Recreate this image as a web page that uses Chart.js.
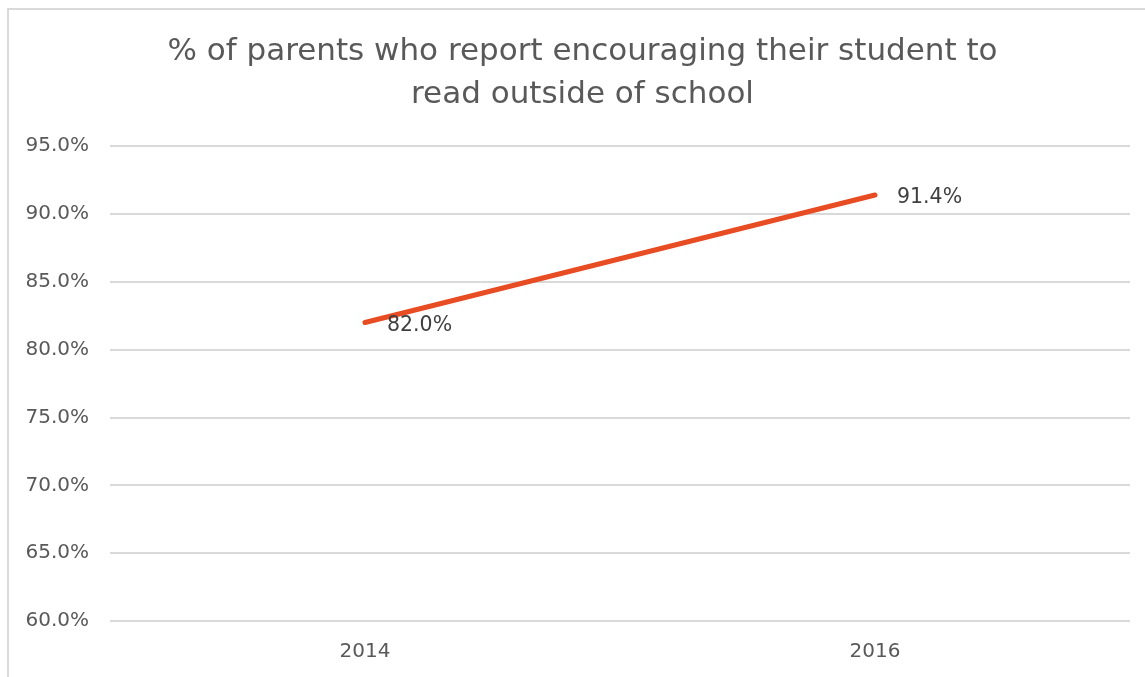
<!DOCTYPE html>
<html><head><meta charset="utf-8">
<script src="https://cdn.jsdelivr.net/npm/chart.js@4"></script>
<style>html,body{margin:0;padding:0;background:#fff;}#wrap{width:1145px;height:677px;position:relative;}</style>
</head><body><div id="wrap"><canvas id="c" width="1145" height="677"></canvas></div>
<script>
const titleLines = ["% of parents who report encouraging their student to", "read outside of school"];
const categories = ["2014", "2016"];
const seriesValues = [82.0, 91.4];
const yTickMin = 60, yTickMax = 95, yTickStep = 5;

const FONT = "'DejaVu Sans', 'Liberation Sans', Arial, sans-serif";

const framePlugin = {
  id: 'frame',
  afterLayout(chart) {
    if (chart.titleBlock) {
      chart.titleBlock.left = 35;
      chart.titleBlock.right = 1130;
    }
  },
  beforeDraw(chart) {
    const ctx = chart.ctx;
    ctx.save();
    ctx.fillStyle = '#fff';
    ctx.fillRect(0, 0, chart.width, chart.height);
    ctx.strokeStyle = '#d9d9d9';
    ctx.lineWidth = 2;
    ctx.beginPath();
    ctx.moveTo(8, chart.height);
    ctx.lineTo(8, 9);
    ctx.lineTo(chart.width, 9);
    ctx.stroke();
    ctx.restore();
  }
};

const labelPlugin = {
  id: 'dlabels',
  afterDatasetsDraw(chart) {
    const ctx = chart.ctx;
    const meta = chart.getDatasetMeta(0);
    ctx.save();
    ctx.font = '20.5px ' + FONT;
    ctx.fillStyle = '#404040';
    ctx.textAlign = 'left';
    ctx.textBaseline = 'middle';
    meta.data.forEach((pt, i) => {
      ctx.fillText(seriesValues[i].toFixed(1) + '%', pt.x + 22, pt.y + 3);
    });
    ctx.restore();
  }
};

new Chart(document.getElementById('c'), {
  type: 'line',
  data: {
    labels: categories,
    datasets: [{
      data: seriesValues,
      borderColor: '#E84C22',
      borderWidth: 5,
      borderCapStyle: 'round',
      pointRadius: 0,
      pointHoverRadius: 0,
      fill: false,
      tension: 0
    }]
  },
  options: {
    responsive: false,
    animation: false,
    events: [],
    layout: { padding: { left: 0, right: 15, top: 0, bottom: 0 } },
    plugins: {
      legend: { display: false },
      tooltip: { enabled: false },
      title: {
        display: true,
        text: titleLines,
        color: '#595959',
        font: { family: FONT, size: 31, weight: 'normal', lineHeight: 1.39 },
        padding: { top: 30, bottom: 30 }
      }
    },
    scales: {
      x: {
        offset: true,
        grid: { display: false, drawTicks: false },
        border: { display: false },
        ticks: { color: '#595959', font: { family: FONT, size: 20 }, padding: 19 },
        afterFit(s) { s.height = 56; }
      },
      y: {
        min: yTickMin, max: yTickMax,
        grid: { color: '#d9d9d9', lineWidth: 2, drawTicks: false },
        border: { display: false },
        ticks: {
          stepSize: yTickStep,
          color: '#595959',
          font: { family: FONT, size: 20 },
          padding: 21,
          callback: v => v.toFixed(1) + '%'
        },
        afterFit(s) { s.width = 110; }
      }
    }
  },
  plugins: [framePlugin, labelPlugin]
});
</script></body></html>
